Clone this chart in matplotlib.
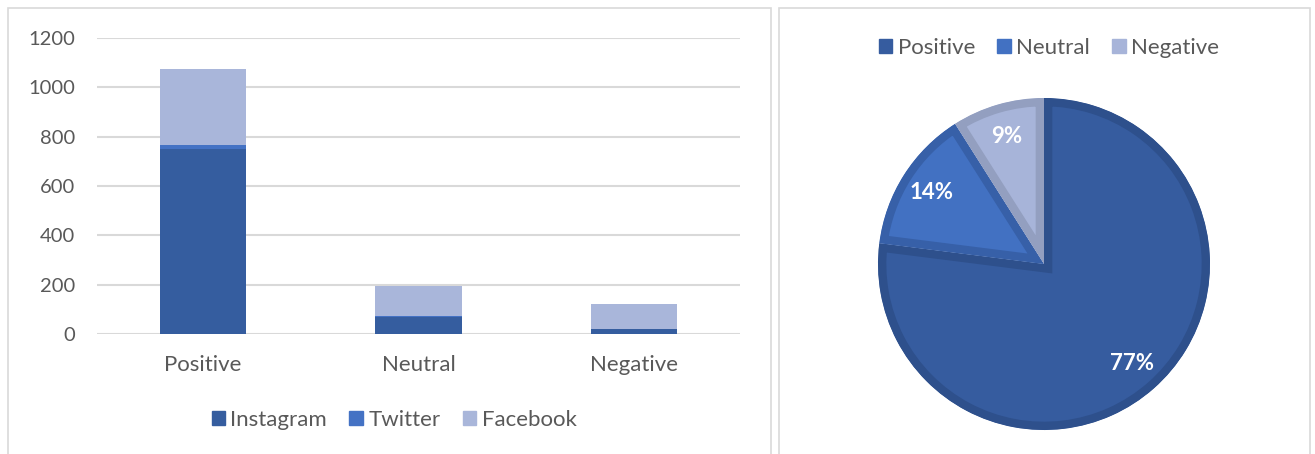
import numpy as np
import matplotlib
matplotlib.use("Agg")
import matplotlib.pyplot as plt
from matplotlib.patches import Rectangle, Patch

plt.rcParams['font.family'] = ['Lato', 'DejaVu Sans']

# data
sentiments = ["Positive", "Neutral", "Negative"]
platforms = ["Instagram", "Twitter", "Facebook"]
instagram = [750, 70, 20]
twitter = [15, 1, 1]
facebook = [309, 125, 99]
share = [77, 14, 9]

bar_colors = ["#355D9F", "#4472C4", "#A9B6DA"]
pie_colors = ["#365C9F", "#4271C2", "#A7B4D9"]
pie_edges = ["#2E508C", "#3760A8", "#939FC0"]
text_col = "#595959"

W, H = 1315, 454
fig = plt.figure(figsize=(W / 100, H / 100), dpi=100)

# panel borders
for x0, x1 in [(8, 771), (779, 1310)]:
    fig.patches.append(Rectangle((x0 / W, -0.1), (x1 - x0) / W, (H - 8) / H + 0.1,
                                 transform=fig.transFigure, fill=False,
                                 edgecolor="#D9D9D9", linewidth=1.2))

# stacked bars
ax = fig.add_axes([97 / W, (H - 334) / H, 643 / W, 296 / H])
x = np.arange(len(sentiments))
bottom = np.zeros(len(sentiments))
for name, vals, c in zip(platforms, [instagram, twitter, facebook], bar_colors):
    ax.bar(x, vals, 0.4, bottom=bottom, color=c, label=name, zorder=3)
    bottom += np.array(vals)
ax.set_xlim(-0.49, 2.49)
ax.set_ylim(0, 1200)
ax.set_yticks(range(0, 1201, 200))
ax.set_xticks(x)
ax.set_xticklabels(sentiments)
ax.yaxis.grid(True, color="#D9D9D9", linewidth=1.5, zorder=0)
for s in ax.spines.values():
    s.set_visible(False)
ax.tick_params(length=0, colors=text_col)
ax.tick_params(axis="x", labelsize=16, pad=15)
ax.tick_params(axis="y", labelsize=14.5, pad=16)
handles = [Patch(color=c) for c in bar_colors]
fig.legend(handles, platforms, loc="center", bbox_to_anchor=(394 / W, (H - 420) / H),
           ncol=3, frameon=False, fontsize=16, labelcolor=text_col,
           handlelength=0.6, handleheight=0.6, handletextpad=0.25, columnspacing=1.0)

# pie
R = 166
pax = fig.add_axes([(1044 - 172) / W, (H - 264 - 172) / H, 344 / W, 344 / H])
wedges, _, autotexts = pax.pie(share, colors=pie_colors, startangle=90, counterclock=False,
                               autopct="%d%%", pctdistance=0.8,
                               textprops=dict(color="white", fontsize=16, fontweight="bold"))
for w, ec in zip(wedges, pie_edges):
    w.set_edgecolor(ec)
    w.set_linewidth(12)
    w.set_joinstyle("miter")
    w.set_clip_on(True)
    w.set_clip_path(w)
pax.set_xlim(-172 / R, 172 / R)
pax.set_ylim(-172 / R, 172 / R)
pax.set_aspect("equal")
pax.axis("off")
handles = [Patch(color=c) for c in pie_colors]
fig.legend(handles, sentiments, loc="center", bbox_to_anchor=(1049 / W, (H - 48) / H),
           ncol=3, frameon=False, fontsize=16, labelcolor=text_col,
           handlelength=0.6, handleheight=0.6, handletextpad=0.25, columnspacing=1.0)

fig.savefig("out.png", dpi=100)
